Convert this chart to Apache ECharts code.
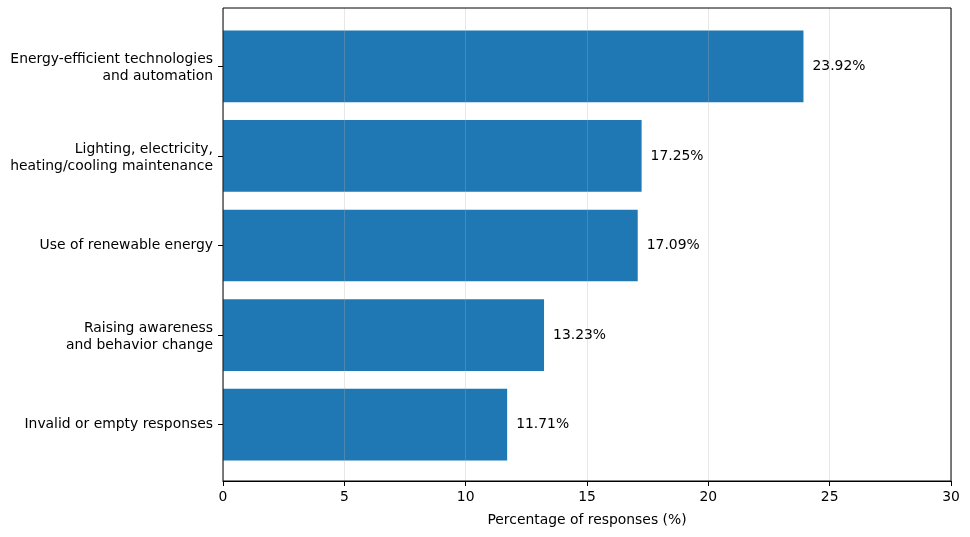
<!DOCTYPE html>
<html>
<head>
<meta charset="utf-8">
<script src="https://cdn.jsdelivr.net/npm/echarts@6/dist/echarts.min.js"></script>
<style>html,body{margin:0;padding:0;background:#fff}#c{width:970px;height:537px}</style>
</head>
<body>
<div id="c"></div>
<script>
const categories = [
  "Energy-efficient technologies\nand automation",
  "Lighting, electricity,\nheating/cooling maintenance",
  "Use of renewable energy",
  "Raising awareness\nand behavior change",
  "Invalid or empty responses"
];
const values = [23.92, 17.25, 17.09, 13.23, 11.71];
const xTicks = [0, 5, 10, 15, 20, 25, 30];
const xName = "Percentage of responses (%)";

const FONT = "DejaVu Sans";
const FS = 13.9;
const chart = echarts.init(document.getElementById('c'), null, {renderer: 'canvas'});
chart.setOption({
  animation: false,
  textStyle: {fontFamily: FONT},
  grid: [
    {left: 223, right: 19, top: 8, bottom: 56, show: true, borderColor: '#000', borderWidth: 1, backgroundColor: 'transparent', z: 5},
    {left: 223, right: 19, top: 21.5, bottom: 67.5}
  ],
  xAxis: [
    {gridIndex: 0, type: 'value', min: xTicks[0], max: xTicks[xTicks.length-1], interval: 5, z: 4,
     axisLine: {show: true, lineStyle: {color: '#000', width: 1}},
     axisTick: {show: true, length: 5, lineStyle: {color: '#000'}},
     axisLabel: {color: '#000', fontSize: FS, fontFamily: FONT, margin: 9},
     splitLine: {show: true, lineStyle: {color: 'rgba(176,176,176,0.3)', width: 1}},
     name: xName, nameLocation: 'middle', nameGap: 32,
     nameTextStyle: {color: '#000', fontSize: FS, fontFamily: FONT}},
    {gridIndex: 1, type: 'value', min: 0, max: 30, show: false}
  ],
  yAxis: [
    {gridIndex: 0, type: 'value', min: 0, max: 1, show: false},
    {gridIndex: 1, type: 'category', data: categories, inverse: true,
     axisLine: {show: false},
     axisTick: {show: true, alignWithLabel: true, length: 5, lineStyle: {color: '#000'}},
     axisLabel: {color: '#000', fontSize: FS, fontFamily: FONT, margin: 10, lineHeight: 17, align: 'right',
       formatter: v => {
         const parts = v.split('\n');
         if (parts.length < 2) return v;
         return '{s| }\n{n|' + parts[0] + '}\n{n|' + parts.slice(1).join('\n') + '}';
       },
       rich: {
         s: {fontSize: 1, lineHeight: 4, align: 'right'},
         n: {color: '#000', fontSize: FS, fontFamily: FONT, lineHeight: 17, align: 'right'}
       }},
     splitLine: {show: false}}
  ],
  series: [{
    type: 'bar', xAxisIndex: 1, yAxisIndex: 1, data: values, barWidth: 71.7,
    itemStyle: {color: '#1f77b4'},
    label: {show: true, position: 'right', distance: 9, color: '#000', fontSize: FS, fontFamily: FONT,
            formatter: p => p.value.toFixed(2) + '%'}
  }]
});
</script>
</body>
</html>
